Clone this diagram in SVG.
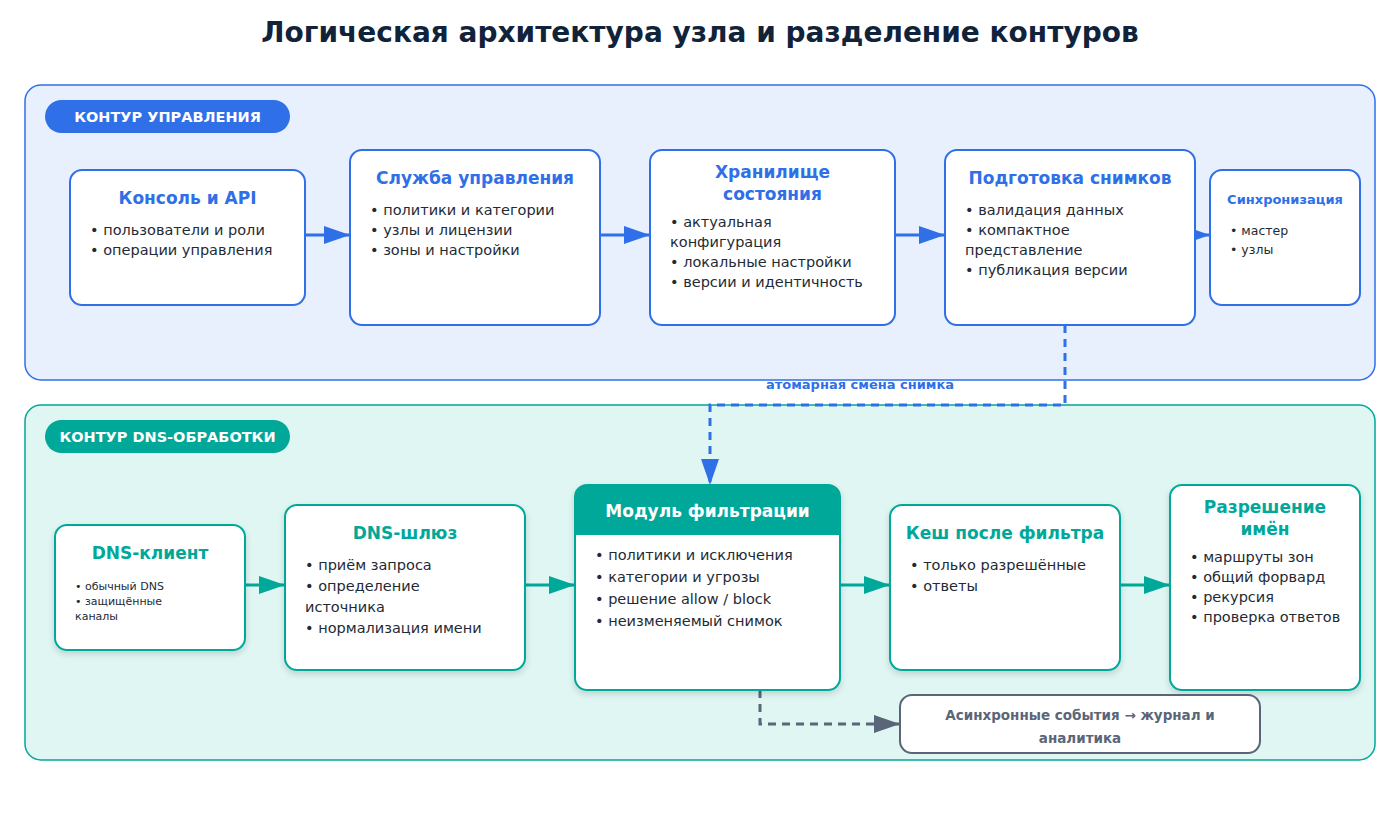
<svg xmlns="http://www.w3.org/2000/svg" width="1400" height="820" viewBox="0 0 1400 820">
<style>
text{font-family:"DejaVu Sans",sans-serif}
.title{font-size:28px;font-weight:bold;fill:#10233a}
.pill{font-size:14.5px;font-weight:bold;fill:#fff}
.nb{fill:#fff;stroke:#2f6fe8;stroke-width:2}
.nt{fill:#fff;stroke:#00a89a;stroke-width:2}
.hb{font-size:17px;font-weight:bold;fill:#2f6fe8}
.ht{font-size:17px;font-weight:bold;fill:#00a89a}
.b{font-size:14.5px;fill:#1e2a35}
.s{font-size:11px;fill:#1e2a35}
.ab{stroke:#2f6fe8;stroke-width:3;fill:none}
.at{stroke:#00a89a;stroke-width:3;fill:none}
</style>
<defs>
<marker id="mb" markerWidth="10" markerHeight="10" refX="9" refY="5" orient="auto" markerUnits="userSpaceOnUse" viewBox="0 0 10 10"><path d="M0,0L10,5L0,10z" fill="#2f6fe8"/></marker>
<marker id="mbl" viewBox="0 0 10 10" refX="10" refY="5" markerWidth="26" markerHeight="18" orient="auto" markerUnits="userSpaceOnUse" preserveAspectRatio="none"><path d="M0,0L10,5L0,10z" fill="#2f6fe8"/></marker>
<marker id="mtl" viewBox="0 0 10 10" refX="10" refY="5" markerWidth="26" markerHeight="18" orient="auto" markerUnits="userSpaceOnUse" preserveAspectRatio="none"><path d="M0,0L10,5L0,10z" fill="#00a89a"/></marker>
<marker id="mgl" viewBox="0 0 10 10" refX="10" refY="5" markerWidth="26" markerHeight="18" orient="auto" markerUnits="userSpaceOnUse" preserveAspectRatio="none"><path d="M0,0L10,5L0,10z" fill="#5a6678"/></marker>
<marker id="mbd" viewBox="0 0 10 10" refX="10" refY="5" markerWidth="26" markerHeight="18" orient="auto" markerUnits="userSpaceOnUse" preserveAspectRatio="none"><path d="M0,0L10,5L0,10z" fill="#2f6fe8"/></marker>
<filter id="sh" x="-10%" y="-10%" width="130%" height="130%"><feDropShadow dx="0" dy="3" stdDeviation="3" flood-color="#000" flood-opacity="0.15"/></filter>
</defs>
<rect width="1400" height="820" fill="#fff"/>
<text class="title" x="700" y="42" text-anchor="middle">Логическая архитектура узла и разделение контуров</text>

<g id="zone-control">
<rect x="25" y="85" width="1350" height="295" rx="16" fill="#e8f0fe" stroke="#2f6fe8" stroke-width="1.5"/>
<rect x="45" y="100" width="245" height="33" rx="16.5" fill="#2f6fe8"/>
<text class="pill" x="167.5" y="122" text-anchor="middle">КОНТУР УПРАВЛЕНИЯ</text>
</g>
<g id="zone-dns">
<rect x="25" y="405" width="1350" height="355" rx="16" fill="#dff6f3" stroke="#00a89a" stroke-width="1.5"/>
<rect x="45" y="420" width="245" height="33" rx="16.5" fill="#00a89a"/>
<text class="pill" x="167.5" y="442" text-anchor="middle">КОНТУР DNS-ОБРАБОТКИ</text>
</g>

<g id="connectors">
<line class="ab" x1="305" y1="235" x2="350" y2="235" marker-end="url(#mbl)"/>
<line class="ab" x1="600" y1="235" x2="650" y2="235" marker-end="url(#mbl)"/>
<line class="ab" x1="895" y1="235" x2="945" y2="235" marker-end="url(#mbl)"/>
<line class="ab" x1="1195" y1="235" x2="1210" y2="235" marker-end="url(#mbl)"/>
<path d="M1065,325V405H710V485" stroke="#2f6fe8" stroke-width="3" fill="none" stroke-dasharray="8,6" marker-end="url(#mbd)"/>
<text x="860" y="389" text-anchor="middle" font-size="13" font-weight="bold" fill="#2f6fe8">атомарная смена снимка</text>
<line class="at" x1="245" y1="585" x2="285" y2="585" marker-end="url(#mtl)"/>
<line class="at" x1="525" y1="585" x2="575" y2="585" marker-end="url(#mtl)"/>
<line class="at" x1="840" y1="585" x2="890" y2="585" marker-end="url(#mtl)"/>
<line class="at" x1="1120" y1="585" x2="1170" y2="585" marker-end="url(#mtl)"/>
<path d="M760,690V724H900" stroke="#5a6678" stroke-width="3" fill="none" stroke-dasharray="8,6" marker-end="url(#mgl)"/>
</g>

<g id="console">
<rect class="nb" x="70" y="170" width="235" height="135" rx="12"/>
<text class="hb" x="187.5" y="204" text-anchor="middle">Консоль и API</text>
<text class="b" x="90" y="235">• пользователи и роли</text>
<text class="b" x="90" y="255">• операции управления</text>
</g>
<g id="mgmt">
<rect class="nb" x="350" y="150" width="250" height="175" rx="12"/>
<text class="hb" x="475" y="184" text-anchor="middle">Служба управления</text>
<text class="b" x="370" y="215">• политики и категории</text>
<text class="b" x="370" y="235">• узлы и лицензии</text>
<text class="b" x="370" y="255">• зоны и настройки</text>
</g>
<g id="store">
<rect class="nb" x="650" y="150" width="245" height="175" rx="12"/>
<text class="hb" x="772.5" y="178" text-anchor="middle">Хранилище</text>
<text class="hb" x="772.5" y="200" text-anchor="middle">состояния</text>
<text class="b" x="670" y="227">• актуальная</text>
<text class="b" x="670" y="247">конфигурация</text>
<text class="b" x="670" y="267">• локальные настройки</text>
<text class="b" x="670" y="287">• версии и идентичность</text>
</g>
<g id="snap">
<rect class="nb" x="945" y="150" width="250" height="175" rx="12"/>
<text class="hb" x="1070" y="184" text-anchor="middle">Подготовка снимков</text>
<text class="b" x="965" y="215">• валидация данных</text>
<text class="b" x="965" y="235">• компактное</text>
<text class="b" x="965" y="255">представление</text>
<text class="b" x="965" y="275">• публикация версии</text>
</g>
<g id="sync">
<rect class="nb" x="1210" y="170" width="150" height="135" rx="12"/>
<text x="1285" y="204" text-anchor="middle" font-size="13" font-weight="bold" fill="#2f6fe8">Синхронизация</text>
<text x="1230" y="235" font-size="12.5" fill="#1e2a35">• мастер</text>
<text x="1230" y="254" font-size="12.5" fill="#1e2a35">• узлы</text>
</g>

<g id="client">
<rect class="nt" x="55" y="525" width="190" height="125" rx="12" filter="url(#sh)"/>
<text class="ht" x="150" y="559" text-anchor="middle">DNS-клиент</text>
<text class="s" x="75" y="590">• обычный DNS</text>
<text class="s" x="75" y="605">• защищённые</text>
<text class="s" x="75" y="620">каналы</text>
</g>
<g id="gateway">
<rect class="nt" x="285" y="505" width="240" height="165" rx="12" filter="url(#sh)"/>
<text class="ht" x="405" y="539" text-anchor="middle">DNS-шлюз</text>
<text class="b" x="305" y="570">• приём запроса</text>
<text class="b" x="305" y="591">• определение</text>
<text class="b" x="305" y="612">источника</text>
<text class="b" x="305" y="633">• нормализация имени</text>
</g>
<g id="filter">
<rect class="nt" x="575" y="485" width="265" height="205" rx="12" filter="url(#sh)"/>
<path d="M587,485H828A12,12 0 0 1 840,497V535H575V497A12,12 0 0 1 587,485Z" fill="#00a89a"/>
<text x="707.5" y="517" text-anchor="middle" font-size="17" font-weight="bold" fill="#fff">Модуль фильтрации</text>
<text class="b" x="595" y="560">• политики и исключения</text>
<text class="b" x="595" y="582">• категории и угрозы</text>
<text class="b" x="595" y="604">• решение allow / block</text>
<text class="b" x="595" y="626">• неизменяемый снимок</text>
</g>
<g id="cache">
<rect class="nt" x="890" y="505" width="230" height="165" rx="12" filter="url(#sh)"/>
<text class="ht" x="1005" y="539" text-anchor="middle">Кеш после фильтра</text>
<text class="b" x="910" y="570">• только разрешённые</text>
<text class="b" x="910" y="591">• ответы</text>
</g>
<g id="resolve">
<rect class="nt" x="1170" y="485" width="190" height="205" rx="12" filter="url(#sh)"/>
<text class="ht" x="1265" y="513" text-anchor="middle">Разрешение</text>
<text class="ht" x="1265" y="535" text-anchor="middle">имён</text>
<text class="b" x="1190" y="562">• маршруты зон</text>
<text class="b" x="1190" y="582">• общий форвард</text>
<text class="b" x="1190" y="602">• рекурсия</text>
<text class="b" x="1190" y="622">• проверка ответов</text>
</g>
<g id="events">
<rect x="900" y="695" width="360" height="58" rx="12" fill="#fff" stroke="#5a6678" stroke-width="2"/>
<text x="1080" y="720" text-anchor="middle" font-size="13.5" font-weight="bold" fill="#5a6678">Асинхронные события → журнал и</text>
<text x="1080" y="743" text-anchor="middle" font-size="13.5" font-weight="bold" fill="#5a6678">аналитика</text>
</g>
</svg>
